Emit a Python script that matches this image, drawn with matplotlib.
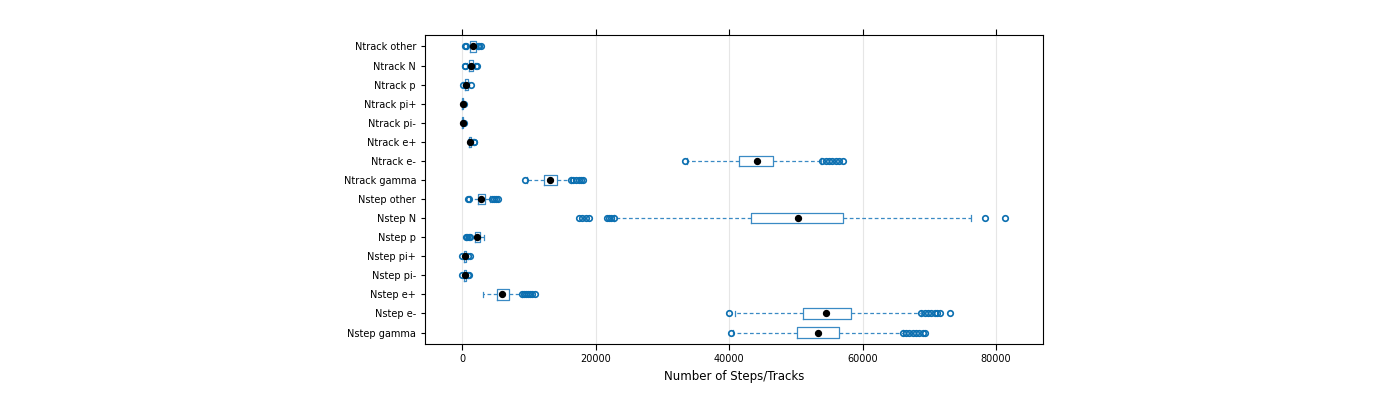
import matplotlib
matplotlib.use("Agg")
import matplotlib.pyplot as plt

categories = ["Nstep gamma", "Nstep e-", "Nstep e+", "Nstep pi-", "Nstep pi+", "Nstep p",
              "Nstep N", "Nstep other", "Ntrack gamma", "Ntrack e-", "Ntrack e+",
              "Ntrack pi-", "Ntrack pi+", "Ntrack p", "Ntrack N", "Ntrack other"]
whislo = [40600, 40900, 3100, 100, 100, 600, 22800, 1200, 9700, 33700, 900, 30, 30, 200, 700, 800]
q1 = [50200, 51100, 5200, 350, 350, 1950, 43300, 2400, 12300, 41500, 1050, 60, 70, 450, 1050, 1200]
med = [53300, 54500, 6000, 480, 480, 2250, 50300, 2850, 13200, 44200, 1200, 90, 110, 650, 1350, 1650]
q3 = [56500, 58300, 7000, 620, 620, 2700, 57100, 3450, 14200, 46600, 1400, 120, 150, 850, 1650, 2100]
whishi = [66100, 68800, 9000, 900, 900, 3300, 76200, 4200, 16300, 53800, 1700, 200, 250, 1100, 2000, 2400]
outliers = [
    [40300, 66000, 66500, 67000, 67500, 68000, 68500, 69000, 69400],
    [40000, 68800, 69300, 69800, 70300, 70800, 71200, 71600, 73100],
    [9000, 9300, 9600, 9900, 10200, 10500, 10900],
    [50, 900, 1100],
    [50, 950, 1150],
    [600, 800, 1000, 1200],
    [17500, 18000, 18500, 19000, 21700, 22000, 22300, 22700, 78300, 81300],
    [900, 1100, 4500, 4800, 5100, 5400],
    [9400, 16300, 16700, 17100, 17500, 17800, 18100],
    [33400, 53900, 54500, 55000, 55500, 56000, 56500, 57100],
    [1750, 1850],
    [250],
    [300],
    [100, 1300],
    [400, 500, 2100, 2200],
    [400, 600, 2400, 2600, 2850],
]
xticks = [0, 20000, 40000, 60000, 80000]

stats = []
for i in range(len(categories)):
    stats.append(dict(label=categories[i], whislo=whislo[i], q1=q1[i], med=med[i],
                      q3=q3[i], whishi=whishi[i], fliers=outliers[i]))

fig = plt.figure(figsize=(14, 4), dpi=100)
ax = fig.add_axes([0.3036, 0.14, 0.4414, 0.7725])
blue = "#3a8ac4"
ax.bxp(stats, vert=False, widths=0.55, showcaps=True,
       boxprops=dict(color=blue, linewidth=0.9),
       whiskerprops=dict(color=blue, linestyle=(0, (3, 2)), linewidth=0.9),
       capprops=dict(color=blue, linewidth=0.9),
       medianprops=dict(linewidth=0),
       flierprops=dict(marker="o", markerfacecolor="none", markeredgecolor="#0b6fb0",
                       markersize=4, markeredgewidth=1.2))
ax.scatter(med, range(1, len(categories) + 1), color="black", s=18, zorder=5)
ax.set_xlim(-5540, 87040)
ax.set_ylim(0.4, len(categories) + 0.6)
ax.set_xticks(xticks)
ax.set_xticklabels([str(t) for t in xticks], fontsize=7)
ax.set_yticklabels(categories, fontsize=7)
ax.tick_params(axis="x", top=True, direction="out", length=4)
ax.tick_params(axis="y", length=3)
ax.grid(axis="x", color="#e6e6e6", linewidth=0.8)
ax.set_axisbelow(True)
ax.set_xlabel("Number of Steps/Tracks", fontsize=8.5)
fig.savefig("out.png", dpi=100)
